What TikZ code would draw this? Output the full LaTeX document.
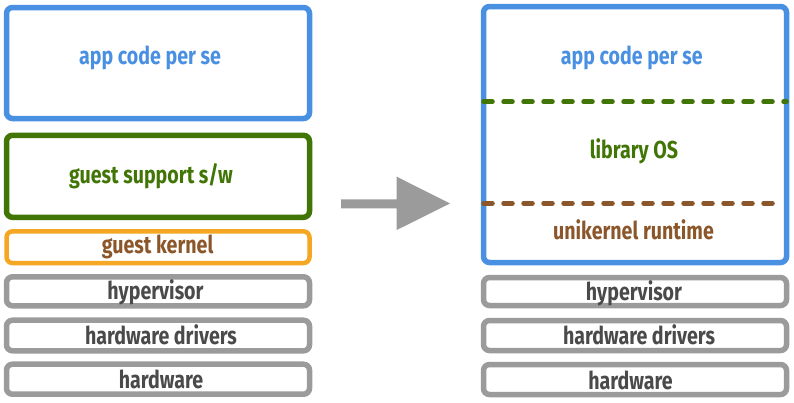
\documentclass[tikz,border=0pt]{standalone}
\usepackage{fontspec}
\setmainfont{Fira Sans}[FakeStretch=0.8]
\usetikzlibrary{shadows}
\definecolor{cblue}{HTML}{4A90E2}
\definecolor{cgreen}{HTML}{417505}
\definecolor{corange}{HTML}{F5A623}
\definecolor{cbrown}{HTML}{8B572A}
\definecolor{cgray}{HTML}{9B9B9B}
\definecolor{ctext}{HTML}{4A4A4A}
\begin{document}
\begin{tikzpicture}[x=1pt,y=-1pt,
  layer/.style={draw, line width=5.5pt, rounded corners=6pt, fill=white,
    minimum width=303pt, inner sep=0pt,
    drop shadow={shadow xshift=0.8pt, shadow yshift=-1.5pt, opacity=0.25}},
  lbl/.style={font=\bfseries\fontsize{24.5}{24.5}\selectfont, inner sep=0pt, anchor=center},
  divider/.style={line width=4.5pt, line cap=round, dash pattern=on 9pt off 11pt}]
\useasboundingbox (0,0) rectangle (794,402);
% left stack
\node[layer, draw=cblue, minimum height=111pt] (lapp) at (158,63) {};
\node[layer, draw=cgreen, minimum height=82pt] (lguest) at (158,176.3) {};
\node[layer, draw=corange, line width=4.5pt, minimum height=31.7pt] (lkern) at (158,247.2) {};
\node[layer, draw=cgray, minimum height=29pt] (lhyp) at (158,291.3) {};
\node[layer, draw=cgray, minimum height=30.6pt] (ldrv) at (158,335.5) {};
\node[layer, draw=cgray, minimum height=30pt] (lhw) at (158,379.2) {};
\node[lbl, text=cblue] (tlapp) at (150,58) {app code per se};
\node[lbl, text=cgreen] (tlguest) at (151,176.7) {guest support s/w};
\node[lbl, text=cbrown] (tlkern) at (157.6,246.5) {guest kernel};
\node[lbl, text=ctext] (tlhyp) at (155.5,292) {hypervisor};
\node[lbl, text=ctext] (tldrv) at (161,335) {hardware drivers};
\node[lbl, text=ctext] (tlhw) at (161,379) {hardware};
% arrow
\coordinate (arrA) at (341,203.8);
\fill[cgray] (arrA) ++(0,-4.5) -- ++(55.7,0) -- ++(0,-22.6) -- (450,203.5)
  -- (396.7,230) -- ++(0,-21.7) -- (341,208.3) -- cycle;
% right stack
\node[layer, draw=cblue, minimum height=256pt] (rapp) at (635,134.5) {};
\node[layer, draw=cgray, minimum height=28pt] (rhyp) at (635,291.5) {};
\node[layer, draw=cgray, minimum height=30pt] (rdrv) at (635,335.5) {};
\node[layer, draw=cgray, minimum height=30pt] (rhw) at (635,379.5) {};
\coordinate (gL) at (483.5,101.7);
\coordinate (gR) at (786.5,101.7);
\coordinate (bL) at (483.5,203.3);
\coordinate (bR) at (777,203.3);
\draw[divider, cgreen] (gL) -- (gR);
\draw[divider, cbrown] (bL) -- (bR);
\node[lbl, text=cblue] (trapp) at (631.7,58) {app code per se};
\node[lbl, text=cgreen] (trlib) at (634,151.7) {library OS};
\node[lbl, text=cbrown] (trrt) at (633.5,230) {unikernel runtime};
\node[lbl, text=ctext] (trhyp) at (634,293) {hypervisor};
\node[lbl, text=ctext] (trdrv) at (639,335) {hardware drivers};
\node[lbl, text=ctext] (trhw) at (630.5,380) {hardware};
\end{tikzpicture}
\end{document}
